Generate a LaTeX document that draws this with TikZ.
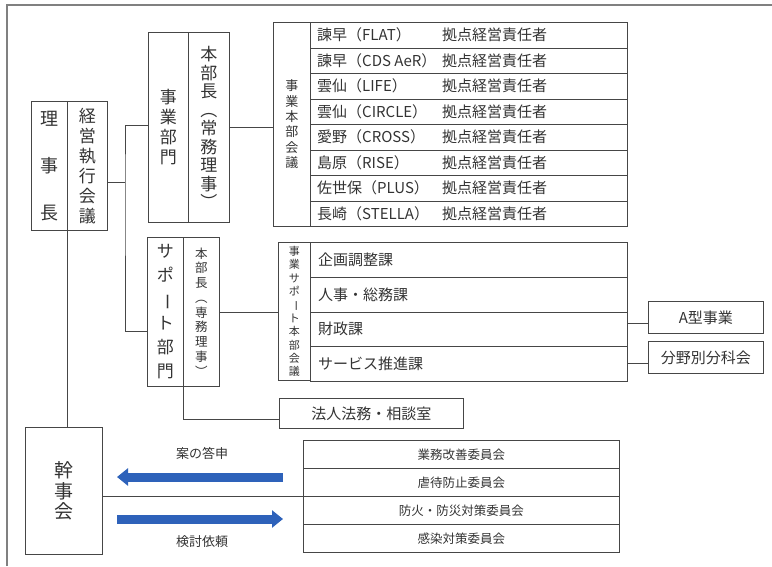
\documentclass[tikz,border=0pt]{standalone}
\usepackage{fontspec}
\usepackage{graphicx}
\usetikzlibrary{arrows.meta}
\newfontfamily\cjk{Noto Sans CJK JP}
\newcommand\tatefont[2]{\cjk\fontsize{#1}{#2}\selectfont}
\newcommand\tatebar{\rotatebox[origin=c]{-90}{ー}}
\definecolor{arrowblue}{RGB}{46,98,186}
\definecolor{linegray}{RGB}{70,70,70}

\begin{document}
\begin{tikzpicture}[x=1pt,y=-1pt]
				\tikzstyle{every node}+=[inner sep=0pt, font=\cjk, text=black!80]
				\tikzstyle{box}=[draw=linegray, line width=0.8pt, anchor=north west, align=center]
				\tikzstyle{rowtext}=[anchor=west, font=\tatefont{15}{18}]
				\tikzstyle{conn}=[draw=linegray, line width=0.8pt]
				\tikzstyle{bigarrow}=[draw=arrowblue, line width=9pt, -{Triangle[length=11pt,width=17pt]}]
				\useasboundingbox (0,0) rectangle (772,566);
				\draw [gray, line width=1.5pt] (7,566) -- (7,5) -- (772,5);
				\node [box, minimum width=36, minimum height=129, font=\tatefont{18}{47}] (riji) at (31,101) {理\\事\\長};
				\node [box, minimum width=40, minimum height=129, font=\tatefont{17}{20}] (keiei) at (67,101) {経\\営\\執\\行\\会\\議};
				\node [box, minimum width=40, minimum height=190, font=\tatefont{17}{20}] (jbumon) at (148,32) {事\\業\\部\\門};
				\node [box, minimum width=41, minimum height=190, font=\tatefont{17}{18.5}] (jhonbu) at (188,32) {本\\部\\長\\︵\\常\\務\\理\\事\\︶};
				\node [box, minimum width=37, minimum height=204, font=\tatefont{13}{15.4}] (jkaigi) at (273,22) {事\\業\\本\\部\\会\\議};
				\foreach \place [count=\i from 0] in {諫早（FLAT）,諫早（CDS AeR）,雲仙（LIFE）,雲仙（CIRCLE）,愛野（CROSS）,島原（RISE）,佐世保（PLUS）,長崎（STELLA）} {
					\node [box, minimum width=317, minimum height=25.5] (jrow\i) at (310,22+25.5*\i) {};
					\node [rowtext] (jname\i) at ([xshift=7]jrow\i.west) {\place};
					\node [rowtext] (jrole\i) at (jrow\i.west -| 442,0) {拠点経営責任者};
				}
				\node [box, minimum width=36, minimum height=149, font=\tatefont{17}{24}] (sbumon) at (147,237) {サ\\ポ\\\tatebar\\ト\\部\\門};
				\node [box, minimum width=36, minimum height=149, font=\tatefont{12.5}{14.75}] (shonbu) at (183,237) {本\\部\\長\\︵\\専\\務\\理\\事\\︶};
				\node [box, minimum width=32, minimum height=138, font=\tatefont{11}{13.4}] (skaigi) at (278,242) {事\\業\\サ\\ポ\\\tatebar\\ト\\本\\部\\会\\議};
				\foreach \sect [count=\i from 0] in {企画調整課,人事・総務課,財政課,サービス推進課} {
					\node [box, minimum width=317, minimum height=34.75] (srow\i) at (310,242+34.75*\i) {};
					\node [rowtext] (sname\i) at ([xshift=8]srow\i.west) {\sect};
				}
				\node [box, minimum width=115, minimum height=32, font=\tatefont{15}{18}] (ajigyo) at (648,301) {A型事業};
				\node [box, minimum width=115, minimum height=32, font=\tatefont{15}{18}] (bunka) at (648,341) {分野別分科会};
				\node [box, minimum width=184, minimum height=30, font=\tatefont{15}{18}] (houmu) at (279,398) {法人法務・相談室};
				\node [box, minimum width=77, minimum height=127, font=\tatefont{19}{20.5}] (kanji) at (25,427) {幹\\事\\会};
				\foreach \iinkai [count=\i from 0] in {業務改善委員会,虐待防止委員会,防火・防災対策委員会,感染対策委員会} {
					\node [box, minimum width=316, minimum height=28, font=\tatefont{12.5}{15}] (iin\i) at (303,440+28*\i) {\iinkai};
				}
				\coordinate (trunk) at (125,182);
				\draw [conn] (keiei.east |- trunk) -- (trunk);
				\draw [conn] ([yshift=2]jbumon.west) -| (trunk) |- ([yshift=-19.5]sbumon.west);
				\draw [conn] (jhonbu.east) -- (jhonbu.east -| jkaigi.west);
				\draw [conn] (shonbu.east) -- (shonbu.east -| skaigi.west);
				\draw [conn] (sbumon.south east) |- ([yshift=-6]houmu.west);
				\draw [conn] ([yshift=-6]ajigyo.west -| srow2.east) -- ([yshift=-6]ajigyo.west);
				\draw [conn] ([yshift=-6]bunka.west -| srow3.east) -- ([yshift=-6]bunka.west);
				\draw [conn] (riji.south east) -- (riji.south east |- kanji.north);
				\draw [conn] (kanji.east |- iin1.south west) -- (iin1.south west);
				\coordinate (toushinR) at (283,477);
				\coordinate (toushinL) at (117,477);
				\coordinate (iraiL) at (117,519);
				\coordinate (iraiR) at (283,519);
				\draw [bigarrow] (toushinR) -- (toushinL);
				\draw [bigarrow] (iraiL) -- (iraiR);
				\node [font=\tatefont{13}{15}] (toushin) at (202,453) {案の答申};
				\node [font=\tatefont{13}{15}] (irai) at (202,542) {検討依頼};
				\end{tikzpicture}
\end{document}
